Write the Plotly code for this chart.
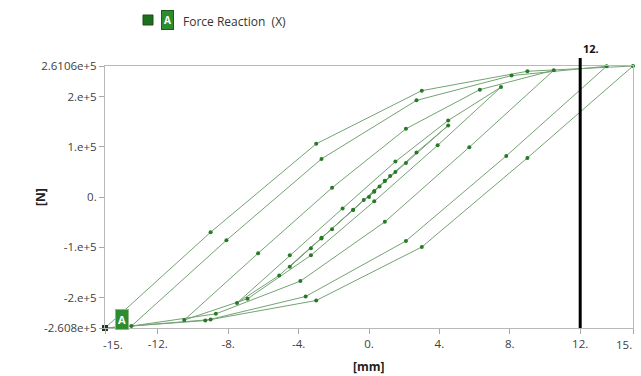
import plotly.graph_objects as go

# Displacement history (mm) and force reaction (N)
displacement = [
    0, 0.3, 0.6, 0.9, 1.2, 1.5,
    0.3, -0.9, -2.1, -3.3, -4.5,
    -2.7, -0.9, 0.9, 2.7, 4.5,
    2.1, -0.3, -2.7, -5.1, -7.5,
    -4.5, -1.5, 1.5, 4.5, 7.5,
    3.9, 0.3, -3.3, -6.9, -10.5,
    -6.3, -2.1, 2.1, 6.3, 10.5,
    5.7, 0.9, -3.9, -8.7, -13.5,
    -8.1, -2.7, 2.7, 8.1, 13.5,
    7.8, 2.1, -3.6, -9.3, -15,
    -9, -3, 3, 9, 15,
    9, 3, -3, -9, -15,
]
force = [
    0, 10500, 21000, 32000, 42000, 50000,
    12000, -26000, -64000, -102000, -138600,
    -82600, -25400, 32600, 89000, 142600,
    68000, -6000, -81000, -156000, -211000,
    -116000, -22600, 70600, 152600, 219000,
    103000, -8500, -116000, -202600, -245000,
    -112000, 18500, 136000, 214000, 252600,
    99400, -49400, -167400, -232600, -257000,
    -86000, 76000, 192600, 242000, 260600,
    82000, -87400, -198000, -246000, -260800,
    -70000, 106000, 212000, 250600, 261060,
    78000, -99400, -206000, -244000, -260800,
]

x_tickvals = [-15, -12, -8, -4, 0, 4, 8, 12, 15]
x_ticktext = ["-15.", "-12.", "-8.", "-4.", "0.", "4.", "8.", "12.", "15."]
y_tickvals = [-260800, -200000, -100000, 0, 100000, 200000, 261060]
y_ticktext = ["-2.608e+5", "-2.e+5", "-1.e+5", "0.", "1.e+5", "2.e+5", "2.6106e+5"]
cursor_x = 12

FONT = "Open Sans"
TICKFONT = dict(family=FONT, size=11.5, color="#404040")

fig = go.Figure()
fig.add_trace(go.Scatter(
    x=displacement, y=force, mode="lines+markers",
    line=dict(color="#74a274", width=1),
    marker=dict(color="#267a26", size=4),
    cliponaxis=False, showlegend=False, hoverinfo="skip",
))
fig.add_trace(go.Scatter(
    x=[displacement[-1]], y=[force[-1]], mode="markers",
    marker=dict(color="#1b3d1b", size=6, symbol="square"),
    cliponaxis=False, showlegend=False, hoverinfo="skip",
))

W, H = 641, 376
L, R, T, B = 105, 8, 66, 48
pw, ph = W - L - R, H - T - B


def px(xp):
    return (xp - L) / pw


def py(yp):
    return (H - B - yp) / ph


# end labels of the x axis are drawn pulled inside the axis extent, as in the reference
inner_ticktext = ["" if i in (0, len(x_ticktext) - 1) else t for i, t in enumerate(x_ticktext)]

axis_common = dict(
    showgrid=False, zeroline=False, showline=True, mirror=True,
    linecolor="#b8b8b8", linewidth=1, ticks="outside", ticklen=5,
    tickcolor="#a8a8a8", tickfont=TICKFONT,
)

fig.update_layout(
    width=W, height=H,
    margin=dict(l=L, r=R, t=T, b=B),
    paper_bgcolor="white", plot_bgcolor="white",
    xaxis=dict(range=[-15, 15], tickmode="array", tickvals=x_tickvals,
               ticktext=inner_ticktext, **axis_common),
    yaxis=dict(range=[-260800, 261060], tickmode="array", tickvals=y_tickvals,
               ticktext=y_ticktext, **axis_common),
    shapes=[
        dict(type="line", xref="x", yref="paper", x0=cursor_x, x1=cursor_x,
             y0=0, y1=py(58), line=dict(color="black", width=3)),
        dict(type="rect", xref="paper", yref="paper", x0=px(143), x1=px(153),
             y0=py(25), y1=py(15), fillcolor="#1f6e1f", line=dict(color="#174f17", width=1)),
    ],
    annotations=[
        dict(text=x_ticktext[0], xref="x", yref="paper", x=x_tickvals[0], y=py(344),
             xanchor="left", yanchor="middle", xshift=-4, showarrow=False, font=TICKFONT),
        dict(text=x_ticktext[-1], xref="x", yref="paper", x=x_tickvals[-1], y=py(344),
             xanchor="right", yanchor="middle", xshift=1, showarrow=False, font=TICKFONT),
        dict(text="<b>[N]</b>", xref="paper", yref="paper", x=px(40), y=0.5,
             xanchor="center", yanchor="middle",
             textangle=-90, showarrow=False, font=dict(family=FONT, size=12, color="#222")),
        dict(text="<b>[mm]</b>", xref="paper", yref="paper", x=px(369), y=py(366),
             xanchor="center", yanchor="middle",
             showarrow=False, font=dict(family=FONT, size=12, color="#222")),
        dict(text="<b>12.</b>", xref="x", yref="paper", x=cursor_x, y=py(48),
             xanchor="left", yanchor="middle", xshift=1, showarrow=False,
             font=dict(family=FONT, size=11, color="#111")),
        dict(text="<b>A</b>", xref="paper", yref="paper", x=px(167), y=py(20),
             xanchor="center", yanchor="middle",
             showarrow=False, bgcolor="#2e8b2e", bordercolor="#1d5e1d", borderwidth=1,
             borderpad=2, font=dict(family=FONT, size=10, color="white")),
        dict(text="Force Reaction&nbsp;&nbsp;(X)", xref="paper", yref="paper", x=px(181), y=py(21),
             xanchor="left", yanchor="middle", showarrow=False,
             font=dict(family=FONT, size=12, color="#333")),
        dict(text="<b>A</b>", xref="paper", yref="paper", x=px(122), y=py(319),
             xanchor="center", yanchor="middle",
             showarrow=False, bgcolor="#2e8b2e", bordercolor="#8fb88f", borderwidth=1,
             borderpad=2, font=dict(family=FONT, size=11, color="white")),
    ],
)

fig.write_html("out.html")
